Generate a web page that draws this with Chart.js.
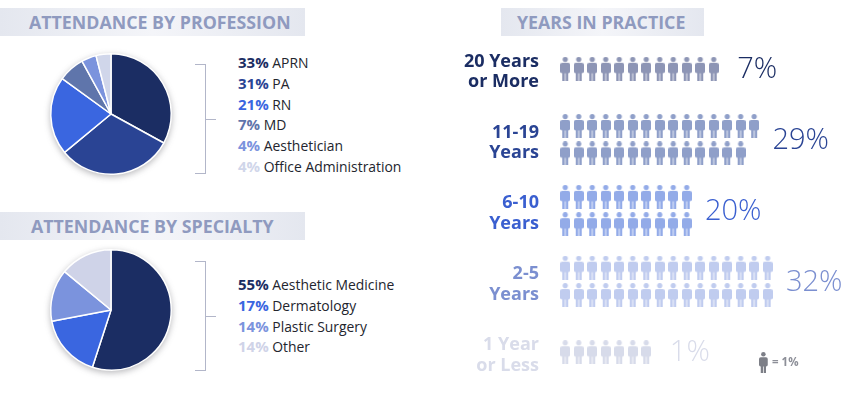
<!DOCTYPE html>
<html lang="en">
<head>
<meta charset="UTF-8">
<title>Attendance</title>
<script src="https://cdn.jsdelivr.net/npm/chart.js"></script>
<style>
    html, body { margin: 0; padding: 0; background: #fff; overflow: hidden; }
    body { width: 850px; height: 393px; position: relative; font-family: "Open Sans", sans-serif; }
    canvas { position: absolute; display: block; }
    .band { position: absolute; height: 28px; line-height: 28px; font-weight: 700; font-size: 17.8px; color: #8f9abf;
            background: linear-gradient(to right, #e4e7ef, #f4f5f9 50%, #e4e7ef); white-space: nowrap; }
    .pie { filter: drop-shadow(0 2px 3px rgba(60,60,70,.35)); }
    .row { position: absolute; left: 238px; font-size: 13.9px; line-height: 20px; color: #23252e; white-space: nowrap; }
    .row b { font-weight: 700; font-size: 15px; }
    .bracket { position: absolute; left: 195px; width: 11px; border: 1.5px solid #b2b6c9; border-left: 0; box-sizing: border-box; }
    .bracket i { position: absolute; left: 9.5px; top: 50%; width: 11px; border-top: 1.5px solid #b2b6c9; }
    #key { position: absolute; left: 772px; top: 355px; font-size: 11.5px; line-height: 14px; font-weight: 700; color: #8d8f98; }
</style>
</head>
<body>
<div class="band" style="left:0;top:8px;width:305px;padding-left:29px;box-sizing:border-box">ATTENDANCE BY PROFESSION</div>
<div class="band" style="left:0;top:212px;width:305px;padding-left:31px;box-sizing:border-box">ATTENDANCE BY SPECIALTY</div>
<div class="band" style="left:501px;top:8px;width:203px;padding-left:16px;box-sizing:border-box">YEARS IN PRACTICE</div>

<canvas id="professionPie" class="pie" width="140" height="140" style="left:41px;top:44px"></canvas>
<canvas id="specialtyPie" class="pie" width="140" height="140" style="left:41px;top:240px"></canvas>
<div class="bracket" style="top:64px;height:110px"><i></i></div>
<div class="bracket" style="top:261px;height:110px"><i></i></div>
<div id="professionLegend"></div>
<div id="specialtyLegend"></div>

<canvas id="practiceChart" width="410" height="353" style="left:440px;top:40px"></canvas>
<div id="key">= 1%</div>

<script>
const professionLabels = ['APRN', 'PA', 'RN', 'MD', 'Aesthetician', 'Office Administration'];
const professionValues = [33, 31, 21, 7, 4, 4];
const professionColors = ['#1b2d63', '#2a4494', '#3a66e0', '#5f75ab', '#7b93dd', '#d0d6ea'];

const specialtyLabels = ['Aesthetic Medicine', 'Dermatology', 'Plastic Surgery', 'Other'];
const specialtyValues = [55, 17, 14, 14];
const specialtyColors = ['#1b2d63', '#3a66e0', '#7b93dd', '#cfd3e8'];

const practiceLabels = [['20 Years', 'or More'], ['11-19', 'Years'], ['6-10', 'Years'], ['2-5', 'Years'], ['1 Year', 'or Less']];
const practicePercents = [7, 29, 20, 32, 1];
const practiceTopRow = [12, 15, 10, 16, 7];
const practiceBottomRow = [0, 14, 10, 16, 0];
const practiceTextColors = ['#1b2d63', '#2a4494', '#3a5fd0', '#7b8fd0', '#d9dcea'];
const practiceIconColors = ['#8d95b5', '#8f9fc9', '#93abe8', '#c0ccef', '#d7dbea'];

function drawLegend(id, labels, values, colors, firstTop) {
    const box = document.getElementById(id);
    labels.forEach((label, i) => {
        const row = document.createElement('div');
        row.className = 'row';
        row.style.top = (firstTop + i * 20.8) + 'px';
        row.innerHTML = `<b style="color:${colors[i]}">${values[i]}%</b> ${label}`;
        box.appendChild(row);
    });
}
drawLegend('professionLegend', professionLabels, professionValues, professionColors, 52);
drawLegend('specialtyLegend', specialtyLabels, specialtyValues, specialtyColors, 274);

function makePie(id, labels, values, colors) {
    return new Chart(document.getElementById(id), {
        type: 'pie',
        data: { labels: labels, datasets: [{ data: values, backgroundColor: colors, borderColor: '#fff', borderWidth: 1.5 }] },
        options: {
            responsive: false,
            animation: false,
            events: [],
            layout: { padding: 9 },
            plugins: { legend: { display: false }, tooltip: { enabled: false } }
        }
    });
}
makePie('professionPie', professionLabels, professionValues, professionColors);
makePie('specialtyPie', specialtyLabels, specialtyValues, specialtyColors);

// little person used as the point style
function makePerson(color, h) {
    const c = document.createElement('canvas');
    const s = h / 24;
    c.width = Math.ceil(10 * s);
    c.height = Math.ceil(24 * s);
    const g = c.getContext('2d');
    g.scale(s, s);
    g.fillStyle = color;
    g.beginPath();
    g.arc(5, 2.6, 2.6, 0, Math.PI * 2);
    g.fill();
    g.beginPath();
    g.roundRect(0, 6, 10, 10.5, 2);
    g.fill();
    g.fillRect(2, 15, 2.6, 9);
    g.fillRect(5.4, 15, 2.6, 9);
    return c;
}

const key = makePerson('#7d7f87', 21);
key.style.left = '759px';
key.style.top = '352px';
document.body.appendChild(key);

const ROW_GAP = 0.193;
const practiceDatasets = practiceLabels.map((label, group) => {
    const points = [];
    const two = practiceBottomRow[group] > 0;
    for (let i = 0; i < practiceTopRow[group]; i++) points.push({ x: i, y: two ? group - ROW_GAP : group });
    for (let i = 0; i < practiceBottomRow[group]; i++) points.push({ x: i, y: group + ROW_GAP });
    return { label: label.join(' '), data: points, showLine: false, pointStyle: makePerson(practiceIconColors[group], 24) };
});

const percentLabels = {
    id: 'percentLabels',
    afterDatasetsDraw(chart) {
        const { ctx, scales } = chart;
        ctx.save();
        ctx.font = '300 29px "Open Sans"';
        ctx.textBaseline = 'middle';
        practicePercents.forEach((pct, i) => {
            const last = Math.max(practiceTopRow[i], practiceBottomRow[i]) - 1;
            const gap = practiceBottomRow[i] > 0 ? 1.35 : 1.75;
            ctx.fillStyle = practiceTextColors[i];
            ctx.fillText(pct + '%', scales.x.getPixelForValue(last + gap), scales.y.getPixelForValue(i) + 1);
        });
        ctx.restore();
    }
};

new Chart(document.getElementById('practiceChart'), {
    type: 'scatter',
    data: { datasets: practiceDatasets },
    plugins: [percentLabels],
    options: {
        responsive: false,
        animation: false,
        events: [],
        layout: { padding: 0, autoPadding: false },
        plugins: { legend: { display: false }, tooltip: { enabled: false } },
        scales: {
            x: { type: 'linear', display: false, min: -1.5, max: 21.1 },
            y: {
                type: 'linear',
                reverse: true,
                min: -0.4065,
                max: 4.576,
                afterFit(scale) {
                    scale.width = 105;
                    scale.paddingTop = 0;
                    scale.paddingBottom = 0;
                },
                afterBuildTicks(scale) { scale.ticks = practiceLabels.map((l, i) => ({ value: i })); },
                grid: { display: false, drawTicks: false },
                border: { display: false },
                ticks: {
                    padding: 6,
                    autoSkip: false,
                    crossAlign: 'near',
                    labelOffset: 3,
                    callback: (value, index) => practiceLabels[index],
                    color: ctx => practiceTextColors[ctx.index],
                    font: { family: '"Open Sans"', size: 18, weight: '700', lineHeight: 1.14 }
                }
            }
        }
    }
});
</script>
</body>
</html>
